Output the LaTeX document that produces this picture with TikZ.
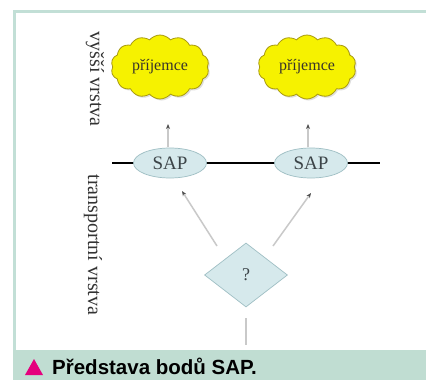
\documentclass[tikz,border=0pt]{standalone}
\usepackage{fontspec}
\setmainfont{Liberation Serif}
\newfontfamily\capfont{Liberation Sans}
\usetikzlibrary{shapes.geometric,shapes.symbols,shadows,arrows.meta}
\definecolor{frameC}{HTML}{C2DFD6}
\definecolor{bandC}{HTML}{C0DDD2}
\definecolor{sapFill}{HTML}{D6E9EC}
\definecolor{sapDraw}{HTML}{9FBFC4}
\definecolor{cloudFill}{HTML}{F6F200}
\definecolor{cloudDraw}{HTML}{A89A10}
\definecolor{lineC}{HTML}{C9C9C9}
\definecolor{tipC}{HTML}{505050}
\definecolor{txtC}{HTML}{3C4448}
\definecolor{magC}{HTML}{E5007D}
\tikzset{
  cloudbox/.style={cloud, cloud puffs=14, cloud puff arc=100, aspect=1.5,
    minimum width=98pt, minimum height=64pt, inner sep=0pt,
    fill=cloudFill, draw=cloudDraw, line width=0.8pt,
    drop shadow={opacity=0.25, shadow xshift=1.5pt, shadow yshift=-1.5pt},
    font=\fontsize{16}{18}\selectfont, text=black!80!olive},
  sapbox/.style={ellipse, minimum width=73pt, minimum height=30pt, inner sep=0pt,
    fill=sapFill, draw=sapDraw, line width=0.7pt,
    font=\fontsize{19}{21}\selectfont, text=txtC},
  diabox/.style={diamond, minimum width=83pt, minimum height=64pt, inner sep=0pt,
    fill=sapFill, draw=sapDraw, line width=0.7pt,
    font=\fontsize{18}{20}\selectfont, text=txtC},
  layerlabel/.style={rotate=-90, font=\fontsize{20}{22}\selectfont, text=black!80},
  conn/.style={draw=lineC, line width=1.5pt},
  arr/.style={conn, -{Stealth[length=5pt,width=4pt,color=tipC]}},
}
\begin{document}
\begin{tikzpicture}[x=1pt,y=-1pt]
\useasboundingbox (0,0) rectangle (426,380);
\fill[white] (0,0) rectangle (426,380);
% frame
\fill[bandC] (13,350) rectangle (426,380);
\draw[frameC, line width=3pt] (14.5,350) -- (14.5,11.5) -- (426,11.5);
% caption
\fill[magC] (25,375) -- (43,375) -- (34,359) -- cycle;
\node[anchor=base west, inner sep=0pt, font=\capfont\bfseries\fontsize{20.5}{22}\selectfont] (cap) at (52,374) {Představa bodů SAP.};
% layer labels
\node[layerlabel] (lup) at (95,79) {vyšší vrstva};
\node[layerlabel] (ltr) at (93,245) {transportní vrstva};
% base line
\coordinate (lineL) at (112,163);
\coordinate (lineR) at (380,163);
\draw[black, line width=2.8pt] (lineL) -- (lineR);
% SAP nodes
\node[sapbox] (sapL) at (170,163) {SAP};
\node[sapbox] (sapR) at (311,163) {SAP};
% clouds
\node[cloudbox] (cL) at (160,67) {příjemce};
\node[cloudbox] (cR) at (307,67) {příjemce};
% diamond
\node[diabox] (dia) at (246,275) {?};
% arrows SAP -> clouds
\coordinate (uL1) at (168,147);
\coordinate (uL2) at (168,124);
\coordinate (uR1) at (308,147);
\coordinate (uR2) at (308,124);
\draw[arr] (uL1) -- (uL2);
\draw[arr] (uR1) -- (uR2);
% arrows diamond -> SAP
\coordinate (dL1) at (217,246);
\coordinate (dL2) at (182,191);
\coordinate (dR1) at (273,246);
\coordinate (dR2) at (311,193);
\draw[arr] (dL1) -- (dL2);
\draw[arr] (dR1) -- (dR2);
% line below diamond
\coordinate (bot) at (246,345);
\draw[conn, line width=2pt] ([yshift=-11pt]dia.south) -- (bot);
\end{tikzpicture}
\end{document}
